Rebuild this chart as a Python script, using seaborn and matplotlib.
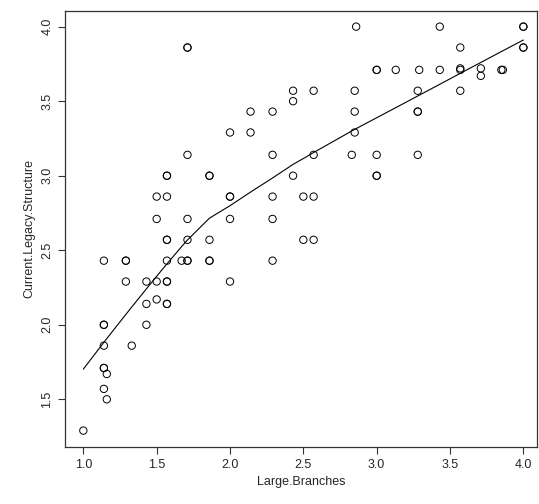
import numpy as np
import pandas as pd
import matplotlib
matplotlib.use("Agg")
import matplotlib.pyplot as plt
import seaborn as sns

# values
large_branches = [
    1.0, 1.14, 1.14, 1.14, 1.14, 1.14, 1.14, 1.16, 1.14, 1.16,
    1.29, 1.29, 1.29, 1.33, 1.43, 1.43, 1.43, 1.5, 1.5, 1.5, 1.5,
    1.57, 1.57, 1.57, 1.57, 1.57, 1.57, 1.57, 1.57, 1.57, 1.57,
    1.67, 1.71, 1.71, 1.71, 1.71, 1.71, 1.71, 1.71,
    1.86, 1.86, 1.86, 1.86, 1.86,
    2.0, 2.0, 2.0, 2.0, 2.0, 2.14, 2.14,
    2.29, 2.29, 2.29, 2.29, 2.29, 2.43, 2.43, 2.43, 2.5, 2.5,
    2.86, 3.43, 4.0, 4.0, 3.57, 4.0, 4.0,
    3.0, 3.0, 3.13, 3.29, 3.43, 3.57, 3.57, 3.71, 3.71, 3.85, 3.86,
    2.57, 2.85, 3.28, 3.57, 2.85, 3.28, 3.28, 2.85,
    2.57, 2.83, 3.0, 3.28, 3.0, 3.0, 2.57, 2.57,
]
legacy_structure = [
    1.29, 2.43, 2.0, 2.0, 1.86, 1.71, 1.71, 1.67, 1.57, 1.5,
    2.43, 2.43, 2.29, 1.86, 2.29, 2.14, 2.0, 2.86, 2.71, 2.29, 2.17,
    3.0, 3.0, 2.86, 2.57, 2.57, 2.43, 2.29, 2.29, 2.14, 2.14,
    2.43, 3.86, 3.86, 3.14, 2.71, 2.57, 2.43, 2.43,
    3.0, 3.0, 2.57, 2.43, 2.43,
    3.29, 2.86, 2.86, 2.71, 2.29, 3.43, 3.29,
    3.43, 3.14, 2.86, 2.71, 2.43, 3.57, 3.5, 3.0, 2.86, 2.57,
    4.0, 4.0, 4.0, 4.0, 3.86, 3.86, 3.86,
    3.71, 3.71, 3.71, 3.71, 3.71, 3.71, 3.72, 3.72, 3.67, 3.71, 3.71,
    3.57, 3.57, 3.57, 3.57, 3.43, 3.43, 3.43, 3.29,
    3.14, 3.14, 3.14, 3.14, 3.0, 3.0, 2.86, 2.57,
]

df = pd.DataFrame({"Large.Branches": large_branches,
                   "Current.Legacy.Structure": legacy_structure})


def lowess(x, y, f=2 / 3, iters=3):
    # plain lowess smoother like R's lowess()
    order = np.argsort(x, kind="stable")
    x = np.asarray(x, float)[order]
    y = np.asarray(y, float)[order]
    n = len(x)
    r = int(np.ceil(f * n))
    robust = np.ones(n)
    fit = np.zeros(n)
    for _ in range(iters + 1):
        for i in range(n):
            d = np.abs(x - x[i])
            h = np.sort(d)[r - 1]
            w = np.clip(d / max(h, 1e-12), 0, 1)
            w = (1 - w ** 3) ** 3 * robust
            sw = w.sum()
            xm = (w * x).sum() / sw
            ym = (w * y).sum() / sw
            sxx = (w * (x - xm) ** 2).sum()
            b = (w * (x - xm) * (y - ym)).sum() / sxx if sxx > 1e-12 else 0
            fit[i] = ym + b * (x[i] - xm)
        res = y - fit
        s = np.median(np.abs(res))
        u = np.clip(res / (6 * s), -1, 1)
        robust = (1 - u ** 2) ** 2
    return x, fit


sns.set_style("ticks")
plt.rcParams['font.family'] = ['Liberation Sans', 'DejaVu Sans']

fig = plt.figure(figsize=(5.39, 5.04), dpi=100)
ax = fig.add_axes([65 / 539, 1 - 447 / 504, 472 / 539, 436 / 504])

sns.scatterplot(data=df, x="Large.Branches", y="Current.Legacy.Structure",
                ax=ax, marker="o", s=28, facecolors="none",
                edgecolor="black", linewidth=0.7)

lx, ly = lowess(df["Large.Branches"].values, df["Current.Legacy.Structure"].values)
ax.plot(lx, ly, color="black", linewidth=0.8)

ax.set_xlim(0.875, 4.093)
ax.set_ylim(1.18, 4.105)
ax.set_xticks([1.0, 1.5, 2.0, 2.5, 3.0, 3.5, 4.0])
ax.set_yticks([1.5, 2.0, 2.5, 3.0, 3.5, 4.0])
ax.set_xticklabels([f"{v:.1f}" for v in ax.get_xticks()])
ax.set_yticklabels([f"{v:.1f}" for v in ax.get_yticks()], rotation=90, va="center")
ax.tick_params(labelsize=9, length=5, width=0.8, color="#333333")
for sp in ax.spines.values():
    sp.set_visible(True)
    sp.set_linewidth(0.9)
    sp.set_color("#333333")
ax.set_xlabel("Large.Branches", fontsize=9)
ax.set_ylabel("Current.Legacy.Structure", fontsize=9)

fig.savefig("out.png", dpi=100)
